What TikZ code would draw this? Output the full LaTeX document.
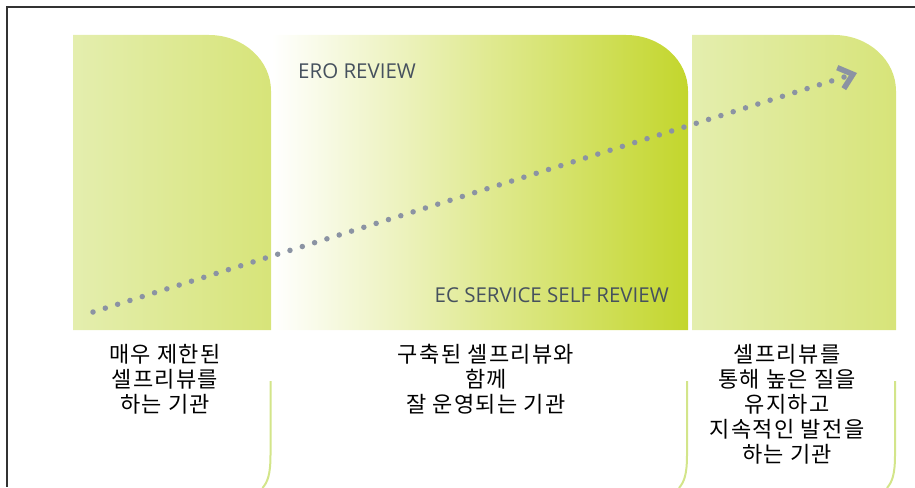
\documentclass[tikz,border=0pt]{standalone}
\usepackage{fontspec}
\newfontfamily\kofont[LetterSpace=6]{Noto Sans CJK KR}
\newfontfamily\enfont{Open Sans}
\usetikzlibrary{arrows.meta}
\tikzset{>=Straight Barb}
\definecolor{dotgray}{HTML}{8B93A3}
\definecolor{textgray}{HTML}{46515E}
\definecolor{guidegreen}{HTML}{D3E58A}
\definecolor{paleleft}{HTML}{E4EEAE}
\definecolor{paleright}{HTML}{D7E479}
\definecolor{midgreen}{HTML}{EAF2C6}
\definecolor{strong}{HTML}{C3D62C}
\tikzset{
  panel/.style={left color=paleleft,right color=paleright},
  midpanel/.style={left color=white,middle color=midgreen,right color=strong},
  dots/.style={dotgray,line width=5.5pt,line cap=round,dash pattern=on 0pt off 12.9pt,
    -{Straight Barb[length=13pt,width=22pt,line width=5.5pt,sharp]}},
  caption/.style={align=center,anchor=north,inner sep=0pt,
    font=\kofont\fontsize{22}{25}\selectfont},
  title/.style={textgray,inner sep=0pt,font=\enfont\fontsize{20.5}{24}\selectfont},
  guide/.style={guidegreen,line width=2pt},
  frame/.style={black!80,line width=1.5pt}
}
\def\rx{62}
\def\ry{56}
\def\panel#1#2{(#1,330) -- (#1,35) -- (#2-\rx,35)
  arc[start angle=-90,end angle=0,x radius=\rx,y radius=\ry] -- (#2,330) -- cycle}
\def\guide#1{\draw[guide] (#1,381) -- (#1,455) .. controls (#1,475) and (#1-3,482) .. (#1-8,488)}

\begin{document}
\begin{tikzpicture}[x=1pt,y=-1pt]
  \useasboundingbox (0,0) rectangle (915,487);

  % PANELS
  \shade[panel] \panel{73}{271};
  \shade[midpanel] \panel{272}{688};
  \shade[panel] \panel{692}{896};

  % GUIDES
  \guide{270.5};
  \guide{687};
  \guide{895};

  % FRAME
  \draw[frame] (915,7) -- (7,7) -- (7,487);

  % LABELS
  \node[title,anchor=base west] (ero) at (298,78) {ERO REVIEW};
  \node[title,anchor=base east] (ecs) at (669,302) {EC SERVICE SELF REVIEW};

  \node[caption] (low) at (165,344) {매우 제한된\\셀프리뷰를\\하는 기관};
  \node[caption] (mid) at (486,344) {구축된 셀프리뷰와\\함께\\잘 운영되는 기관};
  \node[caption] (high) at (787,344) {셀프리뷰를\\통해 높은 질을\\유지하고\\지속적인 발전을\\하는 기관};

  % ARROW
  \coordinate (start) at (93,312);
  \coordinate (end) at (857,73);
  \draw[dots] (start) -- (end);

\end{tikzpicture}
\end{document}
